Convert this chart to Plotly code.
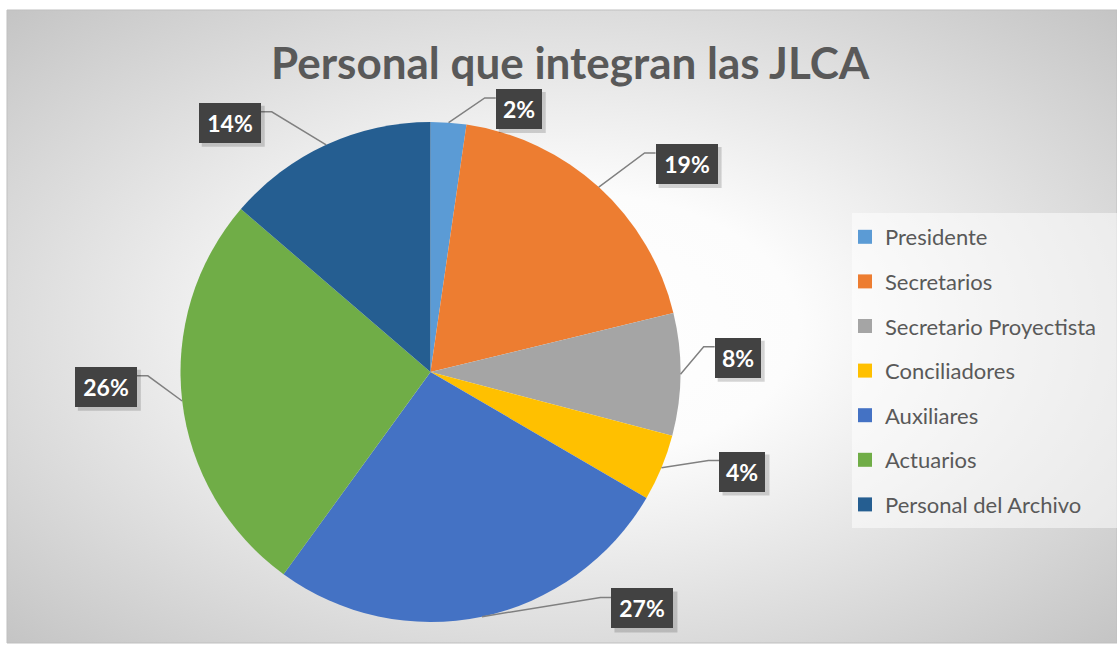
import base64
import math
import plotly.graph_objects as go

# ---------------- data ----------------
labels = ["Presidente", "Secretarios", "Secretario Proyectista", "Conciliadores",
          "Auxiliares", "Actuarios", "Personal del Archivo"]
values = [2.3, 18.9, 7.9, 4.3, 26.6, 26.3, 13.7]
title_text = "Personal que integran las JLCA"

# ---------------- styling ----------------
colors = ["#5B9BD5", "#ED7D31", "#A5A5A5", "#FFC000", "#4472C4", "#70AD47", "#255E91"]
# data-label placement (like Excel best-fit): angular shift (deg) from slice middle, distance in radii
label_shift = [14.4, 8.6, -3.2, -4.8, -30.0, 4.05, -14.2]
label_dist = [1.11, 1.32, 1.23, 1.31, 1.27, 1.30, 1.28]

W, H = 1117, 645
pie_cx, pie_cy, pie_r = 430.5, 372.0, 250.0  # pixel geometry of pie domain
area = (7, 10, 1117, 643)  # chart area (px)


def px(x):
    return x / W


def py(y):
    return 1 - y / H


fig = go.Figure()

fig.add_trace(go.Pie(
    labels=labels, values=values, sort=False, direction="clockwise", rotation=0,
    marker=dict(colors=colors, line=dict(width=0)),
    textinfo="none", hoverinfo="label+percent", showlegend=False,
    domain=dict(x=[px(pie_cx - pie_r), px(pie_cx + pie_r)],
                y=[py(pie_cy + pie_r), py(pie_cy - pie_r)]),
))

# legend entries (one per category)
for lab, col in zip(labels, colors):
    fig.add_trace(go.Scatter(x=[None], y=[None], mode="markers", name=lab,
                             legendgroup=lab,
                             marker=dict(symbol="square", size=14, color=col,
                                         line=dict(width=0))))

# background radial gradient
svg = ('<svg xmlns="http://www.w3.org/2000/svg" width="1110" height="633" '
       'viewBox="0 0 1110 633" preserveAspectRatio="none"><defs>'
       '<radialGradient id="g" cx="0.5" cy="0.5" r="0.71">'
       '<stop offset="0" stop-color="#ffffff"/>'
       '<stop offset="0.3" stop-color="#fcfcfc"/>'
       '<stop offset="1" stop-color="#c4c4c4"/>'
       '</radialGradient></defs>'
       '<rect width="1110" height="633" fill="url(#g)"/></svg>')
src = "data:image/svg+xml;base64," + base64.b64encode(svg.encode()).decode()

shapes = [
    dict(type="rect", xref="paper", yref="paper", x0=px(area[0]), x1=px(area[2]),
         y0=py(area[3]), y1=py(area[1]), line=dict(color="#bfbfbf", width=1),
         fillcolor="rgba(0,0,0,0)", layer="below"),
    # legend background box
    dict(type="rect", xref="paper", yref="paper", x0=px(852), x1=px(1117),
         y0=py(528), y1=py(213), line=dict(width=0),
         fillcolor="rgba(255,255,255,0.5)", layer="below"),
]
annotations = []

total = sum(values)
cum = 0.0
for v, sh, dist in zip(values, label_shift, label_dist):
    mid = (cum + v / 2) / total * 360.0
    cum += v
    pct = f"{round(v / total * 100):d}%"
    # edge point on the slice
    ex = pie_cx + pie_r * math.sin(math.radians(mid))
    ey = pie_cy - pie_r * math.cos(math.radians(mid))
    ang = mid + sh
    lx = pie_cx + dist * pie_r * math.sin(math.radians(ang))
    ly = pie_cy - dist * pie_r * math.cos(math.radians(ang))
    bw = 14 + 16 * len(pct)
    bh = 40
    left, right = lx - bw / 2, lx + bw / 2
    top, bottom = ly - bh / 2, ly + bh / 2
    ay = top + 9
    if lx > pie_cx:
        sx, elx = left, left - 11
    else:
        sx, elx = right, right + 11
    shapes.append(dict(type="path", xref="paper", yref="paper",
                       path=f"M {px(ex)},{py(ey)} L {px(elx)},{py(ay)} L {px(sx)},{py(ay)}",
                       line=dict(color="#808080", width=1.5), layer="above"))
    # soft shadow
    shapes.append(dict(type="rect", xref="paper", yref="paper",
                       x0=px(left + 3), x1=px(right + 4), y0=py(bottom + 4), y1=py(top + 3),
                       line=dict(width=0), fillcolor="rgba(0,0,0,0.16)", layer="above"))
    annotations.append(dict(xref="paper", yref="paper", x=px(lx), y=py(ly),
                            xanchor="center", yanchor="middle", showarrow=False,
                            text=pct, width=bw - 8, height=bh - 8, borderpad=4,
                            bgcolor="#424242", borderwidth=0,
                            font=dict(family="Lato", size=23, color="white", weight="bold")))

annotations.append(dict(xref="paper", yref="paper", x=px(570), y=py(62),
                        xanchor="center", yanchor="middle", showarrow=False,
                        text=title_text,
                        font=dict(family="Lato", size=44, color="#595959", weight="bold")))

fig.update_layout(
    width=W, height=H, margin=dict(l=0, r=0, t=0, b=0),
    paper_bgcolor="white", plot_bgcolor="rgba(0,0,0,0)",
    xaxis=dict(visible=False), yaxis=dict(visible=False),
    images=[dict(source=src, xref="paper", yref="paper", x=px(area[0]), y=py(area[1]),
                 sizex=px(area[2] - area[0]), sizey=(area[3] - area[1]) / H,
                 xanchor="left", yanchor="top", sizing="stretch", layer="below")],
    shapes=shapes, annotations=annotations,
    showlegend=True,
    legend=dict(x=px(845), y=py(216), xanchor="left", yanchor="top",
                bgcolor="rgba(0,0,0,0)", traceorder="grouped", tracegroupgap=13,
                font=dict(family="Lato", size=22, color="#595959")),
)

fig.write_html("out.html", config={"displayModeBar": False},
               post_script="document.body.style.margin='0';")
